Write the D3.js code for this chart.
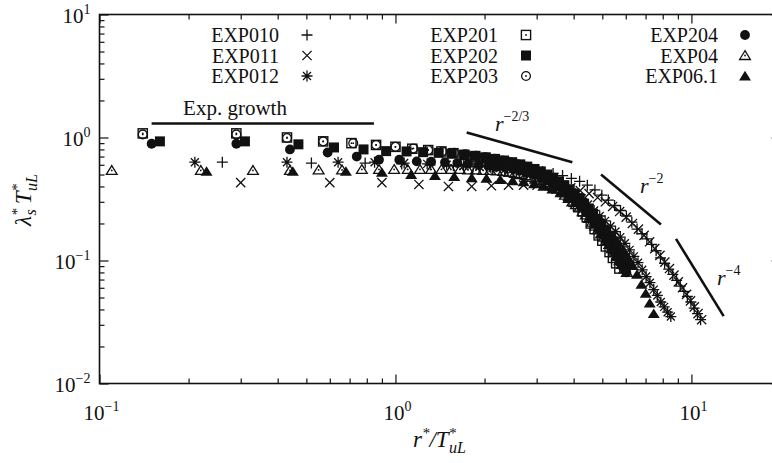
<!DOCTYPE html>
<html>
<head>
<meta charset="utf-8">
<script src="https://cdn.jsdelivr.net/npm/d3@7"></script>
<style>
  body { margin: 0; background: #fff; }
  svg text { font-family: "Liberation Serif", "DejaVu Serif", "Times New Roman", serif; fill: #111; }
</style>
</head>
<body>
<div id="chart"></div>
<script>
// Tick values
const xMajor = [0.1, 1, 10];
const xMinor = [0.2, 0.3, 0.4, 0.5, 0.6, 0.7, 0.8, 0.9, 2, 3, 4, 5, 6, 7, 8, 9];
const yMajor = [0.01, 0.1, 1, 10];
const yMinor = [0.02, 0.03, 0.04, 0.05, 0.06, 0.07, 0.08, 0.09, 0.2, 0.3, 0.4, 0.5, 0.6, 0.7, 0.8, 0.9, 2, 3, 4, 5, 6, 7, 8, 9];
const xTickExp = ["\u22121", "0", "1"];
const yTickExp = ["\u22122", "\u22121", "0", "1"];

// Series: r*/T*uL and lambda*_s T*uL
const exp010R = [0.26,0.52,0.79,1.05,1.31,1.57,1.83,2.10,2.36,2.62,2.88,3.14,3.41,3.67,3.93,4.19,4.45,4.72,4.98,5.24,5.50,5.76,6.03,6.29,6.55,6.81,7.07,7.34,7.60,7.86,8.12,8.38,8.65,8.91,9.17,9.43,9.69,9.96,10.22,10.48,10.74];
const exp010L = [0.63,0.62,0.62,0.61,0.60,0.59,0.58,0.57,0.56,0.55,0.54,0.53,0.51,0.49,0.465,0.44,0.41,0.375,0.34,0.31,0.28,0.255,0.23,0.205,0.18,0.165,0.15,0.135,0.12,0.105,0.095,0.085,0.077,0.069,0.062,0.056,0.051,0.046,0.041,0.037,0.033];

const exp011R = [0.30,0.60,0.90,1.20,1.51,1.81,2.11,2.41,2.71,3.01,3.31,3.61,3.91,4.21,4.51,4.82,5.12,5.42,5.72,6.02,6.32,6.62,6.92,7.22,7.52,7.83,8.13,8.43,8.73,9.03,9.33,9.63,9.93,10.23,10.53,10.83];
const exp011L = [0.43,0.43,0.43,0.415,0.40,0.40,0.405,0.41,0.41,0.41,0.405,0.40,0.39,0.37,0.35,0.325,0.30,0.275,0.25,0.225,0.20,0.18,0.16,0.142,0.125,0.11,0.097,0.086,0.076,0.067,0.06,0.053,0.047,0.042,0.037,0.033];

const exp012R = [0.21,0.43,0.64,0.85,1.07,1.28,1.49,1.70,1.92,2.13,2.34,2.56,2.77,2.98,3.20,3.41,3.62,3.83,4.05,4.26,4.47,4.69,4.90,5.11,5.33,5.54,5.75,5.96,6.18,6.39,6.60,6.82,7.03,7.24,7.46,7.67,7.88,8.09,8.31,8.52];
const exp012L = [0.63,0.63,0.63,0.63,0.62,0.61,0.60,0.59,0.58,0.565,0.55,0.53,0.51,0.49,0.465,0.44,0.41,0.38,0.35,0.32,0.285,0.255,0.23,0.21,0.19,0.172,0.155,0.138,0.122,0.108,0.096,0.084,0.074,0.066,0.058,0.052,0.046,0.042,0.038,0.035];

const exp201R = [0.14,0.29,0.43,0.57,0.71,0.86,1.00,1.14,1.29,1.43,1.57,1.71,1.86,2.00,2.14,2.29,2.43,2.57,2.71,2.86,3.00,3.14,3.29,3.43,3.57,3.71,3.86,4.00,4.14,4.29,4.43,4.57,4.71,4.86,5.00,5.14,5.29,5.43,5.57,5.71];
const exp201L = [1.08,1.08,1.00,0.93,0.90,0.87,0.84,0.81,0.79,0.77,0.745,0.72,0.70,0.68,0.66,0.64,0.615,0.59,0.565,0.54,0.51,0.48,0.45,0.42,0.39,0.36,0.33,0.30,0.275,0.25,0.225,0.20,0.18,0.16,0.145,0.13,0.117,0.105,0.095,0.086];

const exp202R = [0.16,0.31,0.47,0.62,0.78,0.93,1.09,1.24,1.40,1.55,1.71,1.86,2.02,2.17,2.33,2.48,2.64,2.79,2.95,3.10,3.26,3.41,3.57,3.72,3.88,4.03,4.19,4.34,4.50,4.65,4.81,4.96,5.12,5.27,5.43,5.58,5.74,5.89,6.05];
const exp202L = [0.93,0.93,0.88,0.83,0.80,0.775,0.77,0.76,0.75,0.74,0.725,0.71,0.69,0.67,0.65,0.63,0.605,0.58,0.555,0.53,0.50,0.47,0.44,0.41,0.38,0.35,0.32,0.29,0.265,0.24,0.215,0.195,0.175,0.158,0.142,0.128,0.115,0.103,0.093];

const exp203R = [0.14,0.29,0.43,0.57,0.72,0.86,1.00,1.15,1.29,1.44,1.58,1.72,1.87,2.01,2.16,2.30,2.44,2.59,2.73,2.87,3.02,3.16,3.31,3.45,3.59,3.74,3.88,4.03,4.17,4.31,4.46,4.60,4.74,4.89,5.03,5.18,5.32,5.46,5.61,5.75,5.90];
const exp203L = [1.06,1.06,0.99,0.93,0.90,0.87,0.84,0.815,0.79,0.77,0.75,0.73,0.71,0.69,0.67,0.65,0.63,0.605,0.58,0.555,0.53,0.50,0.47,0.44,0.41,0.38,0.35,0.32,0.295,0.27,0.245,0.22,0.20,0.18,0.162,0.146,0.131,0.118,0.106,0.096,0.087];

const exp204R = [0.15,0.29,0.44,0.59,0.74,0.88,1.03,1.18,1.32,1.47,1.62,1.76,1.91,2.06,2.21,2.35,2.50,2.65,2.79,2.94,3.09,3.23,3.38,3.53,3.68,3.82,3.97,4.12,4.26,4.41,4.56,4.70,4.85,5.00,5.15,5.29,5.44,5.59,5.73,5.88,6.03];
const exp204L = [0.89,0.89,0.80,0.755,0.70,0.66,0.66,0.64,0.635,0.63,0.62,0.61,0.60,0.59,0.58,0.57,0.555,0.54,0.52,0.50,0.48,0.455,0.43,0.40,0.375,0.35,0.32,0.295,0.27,0.245,0.222,0.20,0.18,0.163,0.147,0.133,0.12,0.108,0.097,0.088,0.08];

const exp04R = [0.11,0.22,0.33,0.44,0.55,0.66,0.77,0.88,0.99,1.10,1.21,1.32,1.43,1.54,1.65,1.76,1.87,1.98,2.09,2.20,2.31,2.42,2.53,2.64,2.75,2.86,2.97,3.08,3.19,3.30,3.41,3.52,3.63,3.74,3.85,3.96,4.07,4.18,4.29,4.40,4.51,4.62,4.73,4.84,4.95,5.06,5.17,5.28,5.39,5.50,5.61,5.72,5.83,5.94,6.05];
const exp04L = [0.54,0.54,0.54,0.54,0.545,0.545,0.55,0.55,0.55,0.55,0.55,0.55,0.55,0.55,0.55,0.545,0.545,0.54,0.54,0.535,0.53,0.52,0.51,0.50,0.49,0.475,0.46,0.445,0.43,0.415,0.40,0.38,0.36,0.34,0.32,0.30,0.285,0.268,0.25,0.235,0.22,0.205,0.19,0.178,0.165,0.155,0.145,0.135,0.125,0.116,0.108,0.10,0.093,0.086,0.08];

const exp061R = [0.23,0.45,0.68,0.90,1.13,1.36,1.58,1.81,2.03,2.26,2.49,2.71,2.94,3.16,3.39,3.62,3.84,4.07,4.29,4.52,4.75,4.97,5.20,5.42,5.65,5.88,6.10,6.33,6.55,6.78,7.01,7.23,7.46];
const exp061L = [0.53,0.53,0.53,0.52,0.50,0.49,0.48,0.47,0.465,0.455,0.445,0.435,0.42,0.40,0.38,0.355,0.33,0.305,0.28,0.255,0.23,0.205,0.18,0.16,0.14,0.122,0.106,0.091,0.077,0.064,0.054,0.045,0.037];

const seriesNames = ["EXP010", "EXP011", "EXP012", "EXP201", "EXP202", "EXP203", "EXP204", "EXP04", "EXP06.1"];

// Guide lines [r, value] pairs
const expGrowth = [[0.15, 1.3], [0.846, 1.3]];
const slope23 = [[1.74, 1.1], [3.96, 0.63]];
const slope2 = [[4.95, 0.50], [7.89, 0.196]];
const slope4 = [[8.87, 0.150], [12.85, 0.0353]];

const ink = "#111";
const serif = "'Liberation Serif', 'DejaVu Serif', 'Times New Roman', serif";
const margin = {top: 14.5, left: 99.5},
      width = 681,
      height = 369;

const svg = d3.select("#chart")
    .append("svg")
    .attr("width", 772)
    .attr("height", 463)
    .style("font-family", serif);

const g = svg.append("g")
    .attr("transform", `translate(${margin.left},${margin.top})`);

const x = d3.scaleLog().domain([0.1, 20]).range([0, width]);
const y = d3.scaleLog().domain([0.01, 10]).range([height, 0]);

// Axes, ticks pointing inward on all four sides
function styleTicks(ax, major, key, minorLen) {
    ax.select(".domain").remove();
    ax.selectAll(".tick line")
        .attr("stroke", ink)
        .attr("stroke-width", 1.2)
        .filter(d => !major.includes(d))
        .attr(key, minorLen);
}
const xTicks = xMajor.concat(xMinor);
const yTicks = yMajor.concat(yMinor);

g.append("g").attr("transform", `translate(0,${height})`)
    .call(d3.axisBottom(x).tickValues(xTicks).tickSize(-9).tickFormat(""))
    .call(ax => styleTicks(ax, xMajor, "y2", -5));
g.append("g")
    .call(d3.axisTop(x).tickValues(xTicks).tickSize(-9).tickFormat(""))
    .call(ax => styleTicks(ax, xMajor, "y2", 5));
g.append("g")
    .call(d3.axisLeft(y).tickValues(yTicks).tickSize(-9).tickFormat(""))
    .call(ax => styleTicks(ax, yMajor, "x2", 5));
g.append("g").attr("transform", `translate(${width},0)`)
    .call(d3.axisRight(y).tickValues(yTicks).tickSize(-9).tickFormat(""))
    .call(ax => styleTicks(ax, yMajor, "x2", -5));

g.append("rect")
    .attr("width", width)
    .attr("height", height)
    .attr("fill", "none")
    .attr("stroke", ink)
    .attr("stroke-width", 1.6);

// Tick labels 10^n
xMajor.forEach((v, i) => {
    const t = g.append("text")
        .attr("x", x(v) + 2)
        .attr("y", height + 36)
        .attr("text-anchor", "middle")
        .style("font-size", "21px")
        .text("10");
    t.append("tspan").attr("dy", -9).style("font-size", "14px").text(xTickExp[i]);
});
yMajor.forEach((v, i) => {
    const t = g.append("text")
        .attr("x", -9)
        .attr("y", y(v) + 8)
        .attr("text-anchor", "end")
        .style("font-size", "21px")
        .text("10");
    t.append("tspan").attr("dy", -9).style("font-size", "14px").text(yTickExp[i]);
});

// Axis titles
const xt = g.append("text")
    .attr("x", 340)
    .attr("y", height + 63)
    .attr("text-anchor", "middle")
    .style("font-size", "23px")
    .style("font-style", "italic")
    .text("r");
xt.append("tspan").attr("dy", -9).style("font-size", "15px").text("*");
xt.append("tspan").attr("dy", 9).text("/T");
xt.append("tspan").attr("dy", -9).style("font-size", "15px").text("*");
xt.append("tspan").attr("dx", -7).attr("dy", 15).style("font-size", "16px").text("uL");

const yt = svg.append("text")
    .attr("transform", "translate(31,200) rotate(-90)")
    .attr("text-anchor", "middle")
    .style("font-size", "23px")
    .style("font-style", "italic")
    .text("\u03bb");
yt.append("tspan").attr("dy", -9).style("font-size", "15px").text("*");
yt.append("tspan").attr("dx", -7).attr("dy", 14).style("font-size", "16px").text("s");
yt.append("tspan").attr("dx", 5).attr("dy", -5).text("T");
yt.append("tspan").attr("dy", -9).style("font-size", "15px").text("*");
yt.append("tspan").attr("dx", -7).attr("dy", 15).style("font-size", "16px").text("uL");

// Guide lines and labels
const line = d3.line().x(d => x(d[0])).y(d => y(d[1]));
[expGrowth, slope23, slope2, slope4].forEach(pts => {
    g.append("path")
        .attr("d", line(pts))
        .attr("stroke", ink)
        .attr("stroke-width", 2.6)
        .attr("fill", "none");
});
g.append("text")
    .attr("x", x(0.287))
    .attr("y", y(1.52))
    .attr("text-anchor", "middle")
    .style("font-size", "21px")
    .text("Exp. growth");
[[2.17, 1.13, "\u22122/3"], [6.7, 0.354, "\u22122"], [12.2, 0.0632, "\u22124"]].forEach(d => {
    const t = g.append("text")
        .attr("x", x(d[0]))
        .attr("y", y(d[1]))
        .style("font-size", "22px")
        .style("font-style", "italic")
        .text("r");
    t.append("tspan").attr("dy", -10).style("font-size", "14px").style("font-style", "normal").text(d[2]);
});

// Marker shapes
function dot(m) {
    m.append("circle").attr("r", 0.9).attr("fill", ink);
}
const shapes = {
    plus: m => m.append("path").attr("d", "M-5.5,0H5.5M0,-5.5V5.5")
        .attr("stroke", ink).attr("stroke-width", 1.3).attr("fill", "none"),
    cross: m => m.append("path").attr("d", "M-4.6,-4.6L4.6,4.6M-4.6,4.6L4.6,-4.6")
        .attr("stroke", ink).attr("stroke-width", 1.3).attr("fill", "none"),
    star: m => m.append("path").attr("d", "M-5.5,0H5.5M0,-5.5V5.5M-4,-4L4,4M-4,4L4,-4")
        .attr("stroke", ink).attr("stroke-width", 1.3).attr("fill", "none"),
    osquare: m => {
        m.append("rect").attr("x", -4.6).attr("y", -4.6).attr("width", 9.2).attr("height", 9.2)
            .attr("stroke", ink).attr("stroke-width", 1.4).attr("fill", "none");
        dot(m);
    },
    fsquare: m => m.append("rect").attr("x", -5).attr("y", -5).attr("width", 10).attr("height", 10)
        .attr("fill", ink),
    ocircle: m => {
        m.append("circle").attr("r", 4.4)
            .attr("stroke", ink).attr("stroke-width", 1.3).attr("fill", "none");
        dot(m);
    },
    fcircle: m => m.append("circle").attr("r", 4.9).attr("fill", ink),
    otri: m => {
        m.append("path").attr("d", "M0,-4.8L5.4,4L-5.4,4Z")
            .attr("stroke", ink).attr("stroke-width", 1.3).attr("fill", "none");
        dot(m);
    },
    ftri: m => m.append("path").attr("d", "M0,-5.2L6,4.4L-6,4.4Z").attr("fill", ink)
};

const series = [
    {name: seriesNames[0], r: exp010R, v: exp010L, shape: "plus"},
    {name: seriesNames[1], r: exp011R, v: exp011L, shape: "cross"},
    {name: seriesNames[2], r: exp012R, v: exp012L, shape: "star"},
    {name: seriesNames[3], r: exp201R, v: exp201L, shape: "osquare"},
    {name: seriesNames[4], r: exp202R, v: exp202L, shape: "fsquare"},
    {name: seriesNames[5], r: exp203R, v: exp203L, shape: "ocircle"},
    {name: seriesNames[6], r: exp204R, v: exp204L, shape: "fcircle"},
    {name: seriesNames[7], r: exp04R, v: exp04L, shape: "otri"},
    {name: seriesNames[8], r: exp061R, v: exp061L, shape: "ftri"}
];

series.forEach(s => {
    g.append("g")
        .selectAll("g")
        .data(s.r.map((r, i) => [r, s.v[i]]))
        .enter()
        .append("g")
        .attr("transform", d => `translate(${x(d[0])},${y(d[1])})`)
        .each(function() { shapes[s.shape](d3.select(this)); });
});

// Legend: three columns of three rows
const legendCols = [{tx: 279, mx: 307}, {tx: 498, mx: 526}, {tx: 718, mx: 745}];
const legendRows = [42, 62.5, 83];
series.forEach((s, i) => {
    const col = legendCols[Math.floor(i / 3)], row = legendRows[i % 3];
    svg.append("text")
        .attr("x", col.tx)
        .attr("y", row)
        .attr("text-anchor", "end")
        .style("font-size", "20px")
        .text(s.name);
    const m = svg.append("g").attr("transform", `translate(${col.mx},${row - 7})`);
    shapes[s.shape](m);
});
</script>
</body>
</html>
